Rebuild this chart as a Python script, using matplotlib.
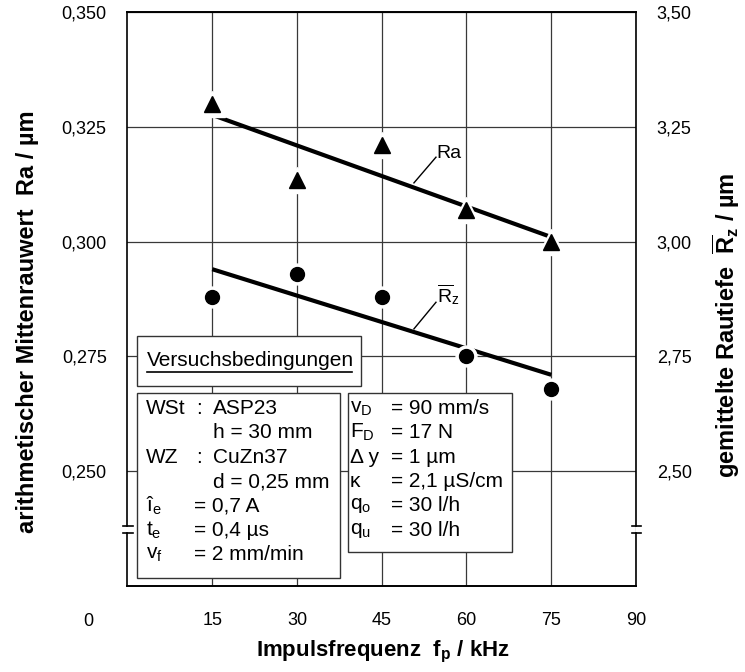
import matplotlib
matplotlib.use("Agg")
import matplotlib.pyplot as plt
from matplotlib.patches import Rectangle
from matplotlib.ticker import FuncFormatter

plt.rcParams['font.family'] = ['Liberation Sans', 'DejaVu Sans']
plt.rcParams['mathtext.fontset'] = 'custom'
plt.rcParams['mathtext.rm'] = 'Liberation Sans'
plt.rcParams['mathtext.it'] = 'Liberation Sans:italic'
plt.rcParams['mathtext.bf'] = 'Liberation Sans:bold'

# data
freq = [15, 30, 45, 60, 75]
ra = [0.330, 0.3135, 0.321, 0.307, 0.300]
rz = [2.88, 2.93, 2.88, 2.75, 2.68]
fit_x = [15, 75]
ra_fit = [0.3276, 0.3010]
rz_fit = [2.940, 2.710]

x_ticks = [15, 30, 45, 60, 75, 90]
ra_ticks = [0.250, 0.275, 0.300, 0.325, 0.350]
rz_ticks = [2.50, 2.75, 3.00, 3.25, 3.50]

TXT = 15    # text in the boxes
TICK = 13
LAB = 16

fig = plt.figure(figsize=(7.45, 6.72), dpi=100)
ax = fig.add_axes([0.1711, 0.128, 0.6826, 0.854])
ax2 = ax.twinx()

ax.set_xlim(0, 90)
ax.set_ylim(0.225, 0.350)
ax2.set_ylim(2.25, 3.50)

ax.set_xticks(x_ticks)
ax.set_yticks(ra_ticks)
ax2.set_yticks(rz_ticks)
ax.yaxis.set_major_formatter(FuncFormatter(lambda v, p: f"{v:.3f}".replace('.', ',')))
ax2.yaxis.set_major_formatter(FuncFormatter(lambda v, p: f"{v:.2f}".replace('.', ',')))
ax.tick_params(axis='x', length=0, pad=19, labelsize=TICK)
ax.tick_params(axis='y', length=0, pad=15, labelsize=TICK)
ax2.tick_params(axis='y', length=0, pad=15, labelsize=TICK)
ax.text(-7.0, -0.047, "0", transform=ax.get_xaxis_transform(), ha='center', va='top', fontsize=TICK)

ax.set_axisbelow(True)
ax.grid(True, color='#383838', linewidth=0.9)

for a in (ax, ax2):
    for s in ('left', 'right'):
        a.spines[s].set_visible(False)
    for s in ('top', 'bottom'):
        a.spines[s].set_linewidth(1.2)

# spines with axis break
lo, hi = 0.0923, 0.1045
for xs in (0, 1):
    ax.plot([xs, xs], [0, lo], transform=ax.transAxes, clip_on=False, color='k', lw=1.2)
    ax.plot([xs, xs], [hi, 1], transform=ax.transAxes, clip_on=False, color='k', lw=1.2)
for yb in (lo, hi):
    ax.plot([-0.0088, 0.0108], [yb, yb], transform=ax.transAxes, clip_on=False, color='k', lw=1.2)
    ax.plot([0.992, 1.010], [yb, yb], transform=ax.transAxes, clip_on=False, color='k', lw=1.2)

# fit lines and points (white halo under each marker)
ax.plot(fit_x, ra_fit, color='k', lw=3, solid_capstyle='butt', zorder=4)
ax.plot(freq, ra, linestyle='none', marker='^', markersize=19, color='white', zorder=5)
ax.plot(freq, ra, linestyle='none', marker='^', markersize=11, color='k', zorder=6)
ax2.plot(fit_x, rz_fit, color='k', lw=3, solid_capstyle='butt', zorder=4)
ax2.plot(freq, rz, linestyle='none', marker='o', markersize=15, color='white', zorder=5)
ax2.plot(freq, rz, linestyle='none', marker='o', markersize=10, color='k', zorder=6)

# labels for the lines
ax.plot([50.7, 54.6], [0.3128, 0.3184], color='k', lw=1)
ax.text(54.7, 0.3193, "Ra", fontsize=14, ha='left', va='center')
ax.plot([50.7, 54.6], [0.2810, 0.2868], color='k', lw=1)
ax.text(54.7, 0.2885, r"$\overline{\mathrm{R}}_\mathrm{z}$", fontsize=14, ha='left', va='center')

def py(p):
    return 0.350 - (p - 12) / 4592.0

def px(p):
    return (p - 127.5) / 5.65

# boxes with test conditions
ax.add_patch(Rectangle((1.68, 0.2686), 39.6, 0.0108, facecolor='white', edgecolor='#333333', lw=1, zorder=3))
ax.text(px(147), py(360), "Versuchsbedingungen", fontsize=TXT, ha='left', va='center', zorder=6)
ax.plot([px(147), px(352)], [py(372), py(372)], color='k', lw=1.2, zorder=6)

ax.add_patch(Rectangle((1.68, 0.2267), 35.9, 0.0403, facecolor='white', edgecolor='#333333', lw=1, zorder=3))
ax.add_patch(Rectangle((39.0, 0.2324), 29.0, 0.0346, facecolor='white', edgecolor='#333333', lw=1, zorder=3))

left_rows = [
    ("WSt", ":", "ASP23"),
    ("", "", "h = 30 mm"),
    ("WZ", ":", "CuZn37"),
    ("", "", "d = 0,25 mm"),
    ("î$_\\mathregular{e}$", "", "= 0,7 A"),
    ("t$_\\mathregular{e}$", "", "= 0,4 µs"),
    ("v$_\\mathregular{f}$", "", "= 2 mm/min"),
]
for i, (a, b, c) in enumerate(left_rows):
    yy = py(408 + i * 24.5)
    ax.text(px(146), yy, a, fontsize=TXT, ha='left', va='center', zorder=6)
    ax.text(px(196), yy, b, fontsize=TXT, ha='left', va='center', zorder=6)
    if c.startswith("="):
        ax.text(px(194), yy, c, fontsize=TXT, ha='left', va='center', zorder=6)
    else:
        ax.text(px(213), yy, c, fontsize=TXT, ha='left', va='center', zorder=6)

right_rows = [
    ("v$_\\mathregular{D}$", "= 90 mm/s"),
    ("F$_\\mathregular{D}$", "= 17 N"),
    ("Δ y", "= 1 µm"),
    ("κ", "= 2,1 µS/cm"),
    ("q$_\\mathregular{o}$", "= 30 l/h"),
    ("q$_\\mathregular{u}$", "= 30 l/h"),
]
for i, (a, c) in enumerate(right_rows):
    yy = py(408 + i * 24.5)
    ax.text(px(350), yy, a, fontsize=TXT, ha='left', va='center', zorder=6)
    ax.text(px(391), yy, c, fontsize=TXT, ha='left', va='center', zorder=6)

# axis titles
fig.text(383 / 745, 1 - 652 / 672, r"Impulsfrequenz  f$_\mathbf{p}$ / kHz",
         fontsize=LAB, fontweight='bold', ha='center', va='center')
fig.text(28 / 745, 1 - 322 / 672, "arithmetischer Mittenrauwert  Ra / µm",
         fontsize=17, fontweight='bold', ha='center', va='center', rotation=90)
fig.text(726 / 745, 1 - 325 / 672, r"gemittelte Rautiefe  $\overline{\mathbf{R}}_\mathbf{z}$ / µm",
         fontsize=17, fontweight='bold', ha='center', va='center', rotation=90)

fig.savefig("out.png", dpi=100)
